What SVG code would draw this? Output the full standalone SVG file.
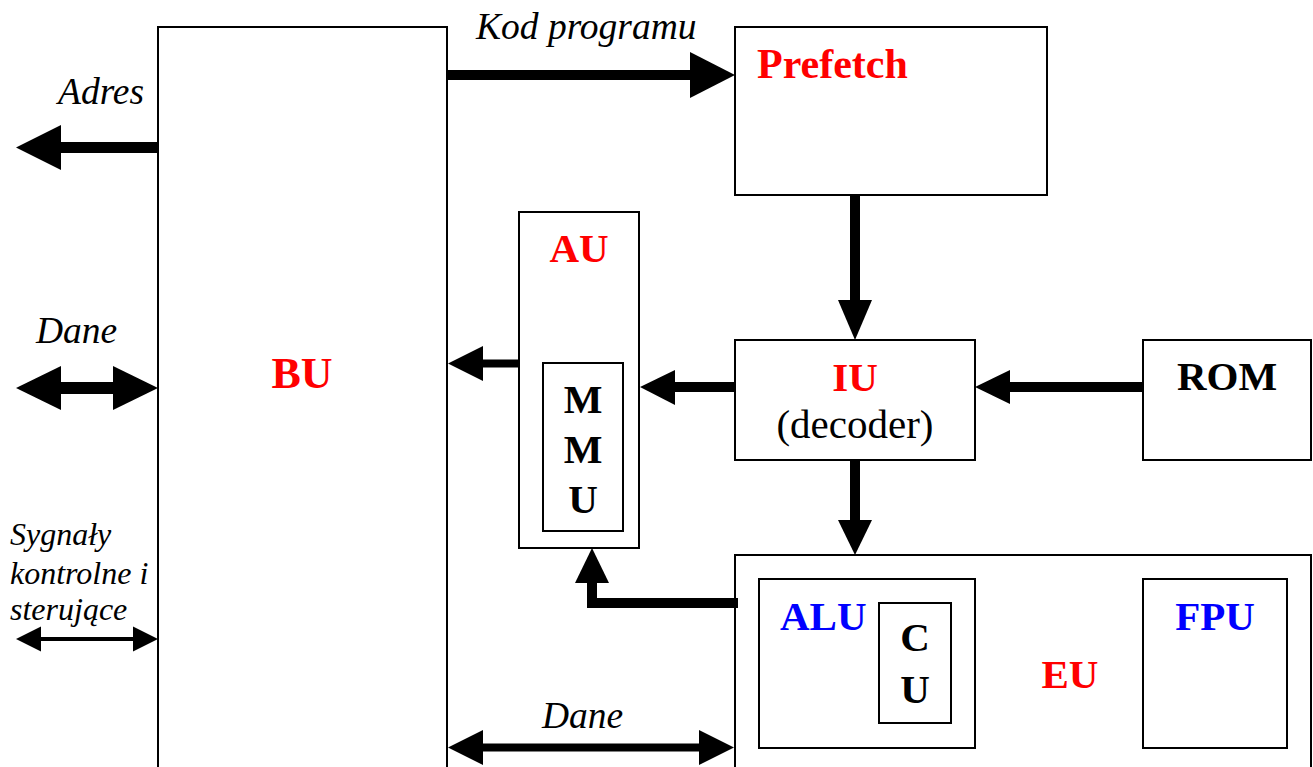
<svg xmlns="http://www.w3.org/2000/svg" width="1313" height="767" viewBox="0 0 1313 767">
<style>
.box{fill:#fff;stroke:#000;stroke-width:2}
.b{font-family:"Liberation Serif",serif;font-weight:bold;font-size:41px;text-anchor:middle}
.r{fill:#ff0000}.bl{fill:#0000ff}.k{fill:#000}
.it{font-family:"Liberation Serif",serif;font-style:italic;font-size:37.5px;fill:#000}
.sm{font-size:32px}
.reg{font-family:"Liberation Serif",serif;font-size:41px;text-anchor:middle;fill:#000}
.ln{stroke:#000;fill:none}
.hd{fill:#000}
</style>
<rect width="1313" height="767" fill="#fff"/>
<g id="BU">
<rect class="box" x="158" y="27" width="289" height="800"/>
<text class="b r" x="302" y="388" style="font-size:44px">BU</text>
</g>
<g id="Prefetch">
<rect class="box" x="735" y="27" width="312" height="168"/>
<text class="b r" x="757" y="78" style="text-anchor:start;font-size:42px">Prefetch</text>
</g>
<g id="AU">
<rect class="box" x="519" y="212" width="120" height="336"/>
<text class="b r" x="579" y="262">AU</text>
</g>
<g id="MMU">
<rect class="box" x="543" y="363" width="80" height="168"/>
<text class="b k" x="583" y="413">M</text>
<text class="b k" x="583" y="463">M</text>
<text class="b k" x="583" y="513">U</text>
</g>
<g id="IU">
<rect class="box" x="735" y="340" width="240" height="120"/>
<text class="b r" x="855" y="391">IU</text>
<text class="reg" x="855" y="438">(decoder)</text>
</g>
<g id="ROM">
<rect class="box" x="1143" y="340" width="168" height="120"/>
<text class="b k" x="1227" y="390">ROM</text>
</g>
<g id="EU">
<rect class="box" x="735" y="555" width="576" height="300"/>
<text class="b r" x="1070" y="688">EU</text>
</g>
<g id="ALU">
<rect class="box" x="759" y="579" width="216" height="169"/>
<text class="b bl" x="780" y="630" style="text-anchor:start">ALU</text>
</g>
<g id="CU">
<rect class="box" x="879" y="603" width="72" height="120"/>
<text class="b k" x="915" y="651">C</text>
<text class="b k" x="915" y="703">U</text>
</g>
<g id="FPU">
<rect class="box" x="1143" y="579" width="144" height="169"/>
<text class="b bl" x="1215" y="630">FPU</text>
</g>
<g id="connectors">
<line class="ln" x1="158" y1="147.5" x2="58" y2="147.5" stroke-width="11"/>
<polygon class="hd" points="16,147.5 61,125 61,170"/>
<line class="ln" x1="58" y1="388" x2="116" y2="388" stroke-width="12"/>
<polygon class="hd" points="16,388 61,366 61,410"/>
<polygon class="hd" points="158,388 113,366 113,410"/>
<line class="ln" x1="38" y1="639" x2="136" y2="639" stroke-width="4"/>
<polygon class="hd" points="16,639 41,626.5 41,651.5"/>
<polygon class="hd" points="158,639 133,626.5 133,651.5"/>
<line class="ln" x1="447" y1="75" x2="693" y2="75" stroke-width="10"/>
<polygon class="hd" points="735,75 690,52 690,98"/>
<line class="ln" x1="855" y1="195" x2="855" y2="303" stroke-width="10"/>
<polygon class="hd" points="855,340 838,300 872,300"/>
<line class="ln" x1="855" y1="460" x2="855" y2="523" stroke-width="10"/>
<polygon class="hd" points="855,555 838,520 872,520"/>
<line class="ln" x1="1143" y1="387" x2="1007" y2="387" stroke-width="10"/>
<polygon class="hd" points="975,387 1010,370 1010,404"/>
<line class="ln" x1="735" y1="387" x2="672" y2="387" stroke-width="10"/>
<polygon class="hd" points="640,387 675,370 675,405"/>
<line class="ln" x1="519" y1="363.5" x2="480" y2="363.5" stroke-width="8"/>
<polygon class="hd" points="448,363.5 483,346 483,381"/>
<polyline class="ln" points="738,603 592,603 592,580" stroke-width="10"/>
<polygon class="hd" points="592,548 575,583 609,583"/>
<line class="ln" x1="480" y1="747.5" x2="702" y2="747.5" stroke-width="8"/>
<polygon class="hd" points="448,747.5 483,730 483,765"/>
<polygon class="hd" points="734,747.5 699,730 699,765"/>
</g>
<g id="labels">
<text class="it" x="476" y="39">Kod programu</text>
<text class="it" x="58" y="104">Adres</text>
<text class="it" x="36" y="343">Dane</text>
<text class="it" x="542" y="728">Dane</text>
<text class="it sm" x="10" y="545">Sygnały</text>
<text class="it sm" x="10" y="584">kontrolne i</text>
<text class="it sm" x="10" y="620">sterujące</text>
</g>
</svg>
